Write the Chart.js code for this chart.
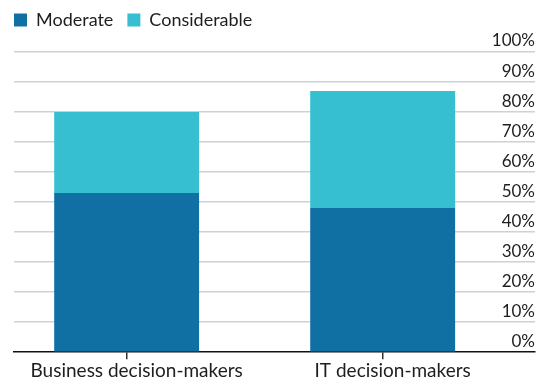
<!DOCTYPE html>
<html>
<head>
<meta charset="utf-8">
<script src="https://cdn.jsdelivr.net/npm/chart.js@4.4.0/dist/chart.umd.min.js"></script>
<style>
  html, body { margin: 0; padding: 0; background: #fff; }
  #wrap { width: 552px; height: 382px; }
</style>
</head>
<body>
<div id="wrap"><canvas id="decision-chart"></canvas></div>
<script>
var categories = ['Business decision-makers', 'IT decision-makers'];
var moderate = [53, 48];
var considerable = [27, 39];
var percentTicks = [0, 10, 20, 30, 40, 50, 60, 70, 80, 90, 100];

var darkBlue = '#1170a3';
var cyan = '#35bfd0';
var gridColor = '#c9d4da';
var textColor = '#1e1e1e';

Chart.defaults.font.family = 'Lato, "Noto Sans", sans-serif';
Chart.defaults.font.size = 18;
Chart.defaults.color = textColor;

function toPoints(values) {
    return values.map(function (v, i) { return { x: i, y: v }; });
}

// give the legend a fixed band above the plot
var legendBand = {
    id: 'legendBand',
    afterInit: function (chart) {
        var legend = chart.legend;
        var fit = legend.fit;
        legend.fit = function () {
            fit.call(this);
            this.height = 55;
        };
    }
};

var ctx = document.getElementById('decision-chart');
new Chart(ctx, {
    type: 'bar',
    data: {
        datasets: [{
            label: 'Moderate',
            data: toPoints(moderate),
            backgroundColor: darkBlue,
            borderWidth: 0,
            barPercentage: 0.566,
            categoryPercentage: 1
        }, {
            label: 'Considerable',
            data: toPoints(considerable),
            backgroundColor: cyan,
            borderWidth: 0,
            barPercentage: 0.566,
            categoryPercentage: 1
        }]
    },
    plugins: [legendBand],
    options: {
        responsive: true,
        maintainAspectRatio: false,
        animation: false,
        layout: { padding: { top: -3, left: 0, right: 17, bottom: 0 } },
        plugins: {
            tooltip: { enabled: false },
            legend: {
                position: 'top',
                align: 'start',
                labels: {
                    boxWidth: 13,
                    boxHeight: 13,
                    padding: 14,
                    color: textColor,
                    font: { size: 18 }
                }
            }
        },
        scales: {
            x: {
                type: 'linear',
                stacked: true,
                min: -0.44,
                max: 1.595,
                offset: false,
                z: 1,
                grid: {
                    display: true,
                    offset: false,
                    drawOnChartArea: false,
                    drawTicks: true,
                    tickLength: 7,
                    color: '#333333',
                    lineWidth: 1.5
                },
                border: { display: true, color: '#111111', width: 1.5 },
                ticks: {
                    stepSize: 1,
                    includeBounds: false,
                    autoSkip: false,
                    maxRotation: 0,
                    padding: 0,
                    labelOffset: 10,
                    color: textColor,
                    font: { size: 19 },
                    callback: function (v) { return categories[v]; }
                },
                afterFit: function (scale) {
                    scale.paddingLeft = 14;
                    scale.paddingRight = 0;
                }
            },
            y: {
                position: 'right',
                stacked: true,
                min: 0,
                max: 100,
                grid: {
                    drawTicks: false,
                    lineWidth: 1.5,
                    color: function (c) { return c.tick && c.tick.value === 0 ? 'rgba(0,0,0,0)' : gridColor; }
                },
                border: { display: false },
                afterBuildTicks: function (scale) {
                    scale.ticks = percentTicks.map(function (v) { return { value: v }; });
                },
                ticks: {
                    mirror: true,
                    padding: 0,
                    labelOffset: -11,
                    color: textColor,
                    font: { size: 17 },
                    callback: function (v) { return v + '%'; }
                }
            }
        }
    }
});
</script>
</body>
</html>
